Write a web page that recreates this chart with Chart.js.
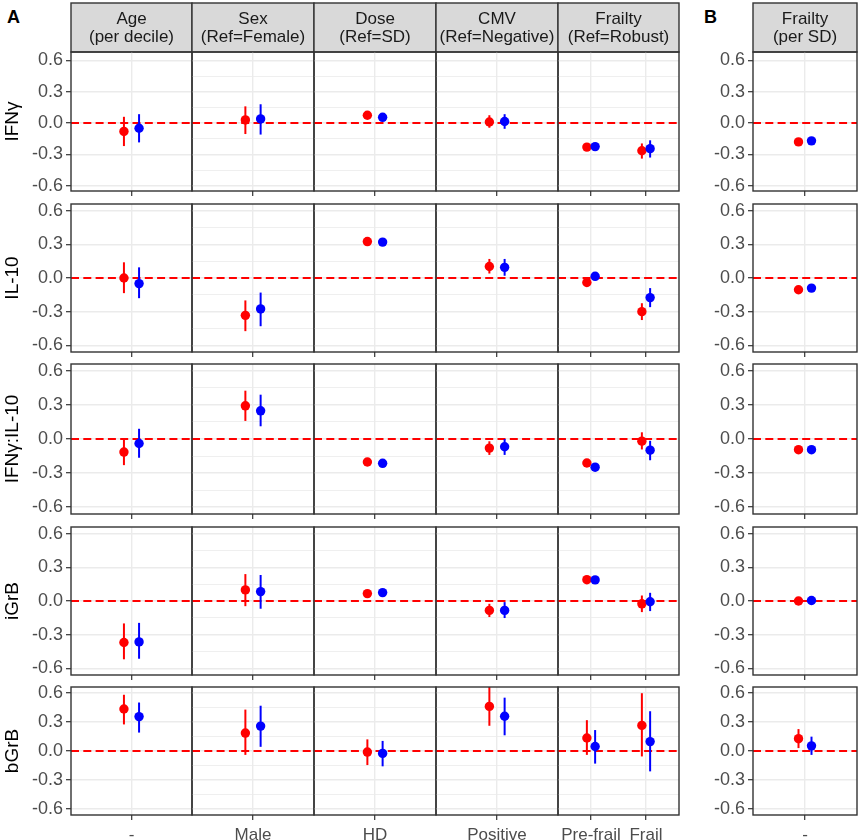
<!DOCTYPE html>
<html>
<head>
<meta charset="utf-8">
<script src="https://cdn.jsdelivr.net/npm/chart.js@4.4.1/dist/chart.umd.min.js"></script>
<style>
  body { margin: 0; background: #fff; }
  #wrap { position: relative; width: 858px; height: 840px; overflow: hidden; font-family: "Liberation Sans", Arial, sans-serif; }
  #wrap canvas { position: absolute; }
  .tag { position: absolute; font-weight: bold; font-size: 18px; line-height: 18px; color: #000; }
</style>
</head>
<body>
<div id="wrap">
  <div class="tag" style="left:7px;top:8px">A</div>
  <div class="tag" style="left:704px;top:8px">B</div>
</div>
<script>
// rows = outcomes, facet columns = model terms
const rowNames = ['IFNγ', 'IL-10', 'IFNγ:IL-10', 'iGrB', 'bGrB'];
const termTitles = [
  ['Age', '(per decile)'], ['Sex', '(Ref=Female)'], ['Dose', '(Ref=SD)'],
  ['CMV', '(Ref=Negative)'], ['Frailty', '(Ref=Robust)'], ['Frailty', '(per SD)']
];
const termLevels = [['-'], ['Male'], ['HD'], ['Positive'], ['Pre-frail', 'Frail'], ['-']];
// which value slot each level reads: Age, Sex, Dose, CMV, Pre-frail, Frail, Frailty per SD
const termSlots = [[0], [1], [2], [3], [4, 5], [6]];
const yTicks = [-0.6, -0.45, -0.3, -0.15, 0, 0.15, 0.3, 0.45, 0.6];

// red series
const estRed = [
  [-0.08, 0.03, 0.075, 0.01, -0.23, -0.265, -0.18],
  [0.0, -0.333, 0.325, 0.103, -0.04, -0.30, -0.105],
  [-0.115, 0.292, -0.202, -0.08, -0.211, -0.019, -0.094],
  [-0.37, 0.099, 0.066, -0.084, 0.19, -0.025, 0.0],
  [0.433, 0.185, -0.011, 0.46, 0.134, 0.264, 0.127]
];
const lowRed = [
  [-0.22, -0.105, 0.055, -0.045, -0.25, -0.34, -0.2],
  [-0.135, -0.474, 0.305, 0.04, -0.06, -0.375, -0.125],
  [-0.23, 0.159, -0.222, -0.14, -0.231, -0.092, -0.114],
  [-0.52, -0.046, 0.046, -0.143, 0.17, -0.099, -0.02],
  [0.274, -0.04, -0.145, 0.26, -0.04, -0.056, 0.03]
];
const highRed = [
  [0.06, 0.16, 0.095, 0.075, -0.21, -0.195, -0.16],
  [0.14, -0.2, 0.345, 0.17, -0.02, -0.225, -0.085],
  [0.0, 0.425, -0.182, -0.02, -0.191, 0.059, -0.074],
  [-0.2, 0.24, 0.086, -0.025, 0.21, 0.049, 0.02],
  [0.58, 0.427, 0.12, 0.70, 0.318, 0.596, 0.226]
];
// blue series
const estBlue = [
  [-0.05, 0.04, 0.055, 0.015, -0.225, -0.245, -0.17],
  [-0.05, -0.276, 0.32, 0.095, 0.015, -0.175, -0.09],
  [-0.04, 0.248, -0.214, -0.068, -0.248, -0.098, -0.094],
  [-0.365, 0.084, 0.075, -0.084, 0.188, -0.007, 0.004],
  [0.355, 0.257, -0.025, 0.358, 0.046, 0.097, 0.053]
];
const lowBlue = [
  [-0.185, -0.11, 0.035, -0.055, -0.245, -0.33, -0.19],
  [-0.18, -0.43, 0.3, 0.02, -0.005, -0.26, -0.11],
  [-0.165, 0.112, -0.234, -0.14, -0.268, -0.187, -0.114],
  [-0.515, -0.069, 0.055, -0.152, 0.168, -0.09, -0.016],
  [0.19, 0.043, -0.158, 0.162, -0.13, -0.21, -0.04]
];
const highBlue = [
  [0.085, 0.18, 0.075, 0.085, -0.205, -0.165, -0.15],
  [0.095, -0.13, 0.34, 0.17, 0.035, -0.09, -0.07],
  [0.09, 0.39, -0.194, 0.0, -0.228, -0.016, -0.074],
  [-0.195, 0.232, 0.095, -0.01, 0.208, 0.073, 0.024],
  [0.50, 0.467, 0.104, 0.55, 0.216, 0.41, 0.148]
];

// page layout of the panels (pixels)
const cellX = [[71, 192], [192, 314], [314, 436], [436, 558], [558, 679], [753, 857]];
const rowY = [[52, 191], [204, 352], [364, 514], [527, 675], [687, 815]];
const rowMin = [-0.65, -0.66, -0.66, -0.66, -0.66];
const rowMax = [0.68, 0.66, 0.66, 0.66, 0.66];
const axisW = [71, 0, 0, 0, 0, 45];
// pad must be >= point radius, chart.js keeps that much room around the plot area
const stripH = 49, pad = 6, dodge = 0.075;

Chart.defaults.font.family = '"Liberation Sans", Arial, sans-serif';

const isMajor = v => Math.round(v * 100) % 30 === 0;

const panelFrame = {
  id: 'panelFrame',
  beforeDraw(chart) {
    const t = chart.titleBlock;
    if (t && chart.options.plugins.title.display) {
      const ctx = chart.ctx;
      ctx.save();
      ctx.fillStyle = '#D9D9D9';
      ctx.fillRect(t.left, t.top, t.width, t.height);
      ctx.strokeStyle = '#333333';
      ctx.lineWidth = 1.4;
      ctx.strokeRect(t.left, t.top, t.width, t.height);
      ctx.restore();
    }
  },
  afterDraw(chart) {
    const a = chart.chartArea, ctx = chart.ctx;
    ctx.save();
    ctx.strokeStyle = '#333333';
    ctx.lineWidth = 1.4;
    ctx.strokeRect(a.left, a.top, a.right - a.left, a.bottom - a.top);
    ctx.restore();
  }
};

function makeCell(r, c) {
  const wrap = document.getElementById('wrap');
  const [x0, x1] = cellX[c], [y0, y1] = rowY[r];
  const yW = axisW[c];
  const xH = r === 4 ? 30 : 5;
  const tH = r === 0 ? stripH : 0;
  const levels = termLevels[c], slots = termSlots[c], n = levels.length;

  const canvas = document.createElement('canvas');
  canvas.width = pad + yW + (x1 - x0) + pad;
  canvas.height = pad + tH + (y1 - y0) + xH + pad;
  canvas.style.left = (x0 - yW - pad) + 'px';
  canvas.style.top = (y0 - tH - pad) + 'px';
  wrap.appendChild(canvas);

  const datasets = [{
    data: [{ x: 0.4, y: 0 }, { x: n + 0.6, y: 0 }],
    showLine: true, borderColor: '#FF0000', borderWidth: 1.9, borderDash: [8, 4.3],
    pointRadius: 0, order: 10
  }];
  const series = [
    { est: estRed, lo: lowRed, hi: highRed, color: '#FF0000', shift: -dodge, order: 2 },
    { est: estBlue, lo: lowBlue, hi: highBlue, color: '#0000FF', shift: dodge, order: 0 }
  ];
  series.forEach(s => {
    slots.forEach((k, i) => {
      datasets.push({
        data: [{ x: i + 1 + s.shift, y: s.lo[r][k] }, { x: i + 1 + s.shift, y: s.hi[r][k] }],
        showLine: true, borderColor: s.color, borderWidth: 2, pointRadius: 0, order: s.order + 1
      });
    });
    datasets.push({
      data: slots.map((k, i) => ({ x: i + 1 + s.shift, y: s.est[r][k] })),
      showLine: false, pointRadius: 4.7, backgroundColor: s.color, borderColor: s.color,
      pointBorderWidth: 0, order: s.order
    });
  });

  new Chart(canvas, {
    type: 'scatter',
    data: { datasets },
    plugins: [panelFrame],
    options: {
      responsive: false,
      animation: false,
      events: [],
      layout: { padding: pad },
      plugins: {
        legend: { display: false },
        tooltip: { enabled: false },
        title: {
          display: r === 0, text: termTitles[c], fullSize: false, color: '#1A1A1A',
          font: { size: 17, weight: 'normal', lineHeight: '18px' }, padding: { top: 7, bottom: 6 }
        }
      },
      scales: {
        x: {
          type: 'linear', min: 0.4, max: n + 0.6,
          afterBuildTicks: sc => { sc.ticks = levels.map((_, i) => ({ value: i + 1 })); },
          afterFit: sc => { sc.height = xH; sc.paddingLeft = 0; sc.paddingRight = 0; },
          ticks: {
            display: r === 4, autoSkip: false, maxRotation: 0, minRotation: 0, padding: 5,
            color: '#4D4D4D', font: { size: 17 }, callback: v => levels[Math.round(v) - 1]
          },
          grid: { color: '#EBEBEB', lineWidth: 1.4, drawTicks: true, tickLength: 5, tickColor: '#333333', tickWidth: 1.2 },
          border: { display: false }
        },
        y: {
          type: 'linear', min: rowMin[r], max: rowMax[r],
          afterBuildTicks: sc => { sc.ticks = yTicks.map(v => ({ value: v })); },
          afterFit: sc => { sc.width = yW; sc.paddingTop = 0; sc.paddingBottom = 0; },
          ticks: {
            display: yW > 0, padding: 3, color: '#4D4D4D', font: { size: 18 },
            callback: v => isMajor(v) ? v.toFixed(1) : ''
          },
          grid: {
            color: '#EBEBEB',
            lineWidth: ctx => isMajor(ctx.tick.value) ? 1.4 : 0.8,
            drawTicks: yW > 0, tickLength: 5, tickWidth: 1.2,
            tickColor: ctx => isMajor(ctx.tick.value) ? '#333333' : 'rgba(0,0,0,0)'
          },
          border: { display: false },
          title: {
            display: c === 0, text: rowNames[r], color: '#000000',
            font: { size: 19 }, padding: { top: 1, bottom: 0 }
          }
        }
      }
    }
  });
}

for (let r = 0; r < rowNames.length; r++) {
  for (let c = 0; c < termLevels.length; c++) makeCell(r, c);
}
</script>
</body>
</html>
